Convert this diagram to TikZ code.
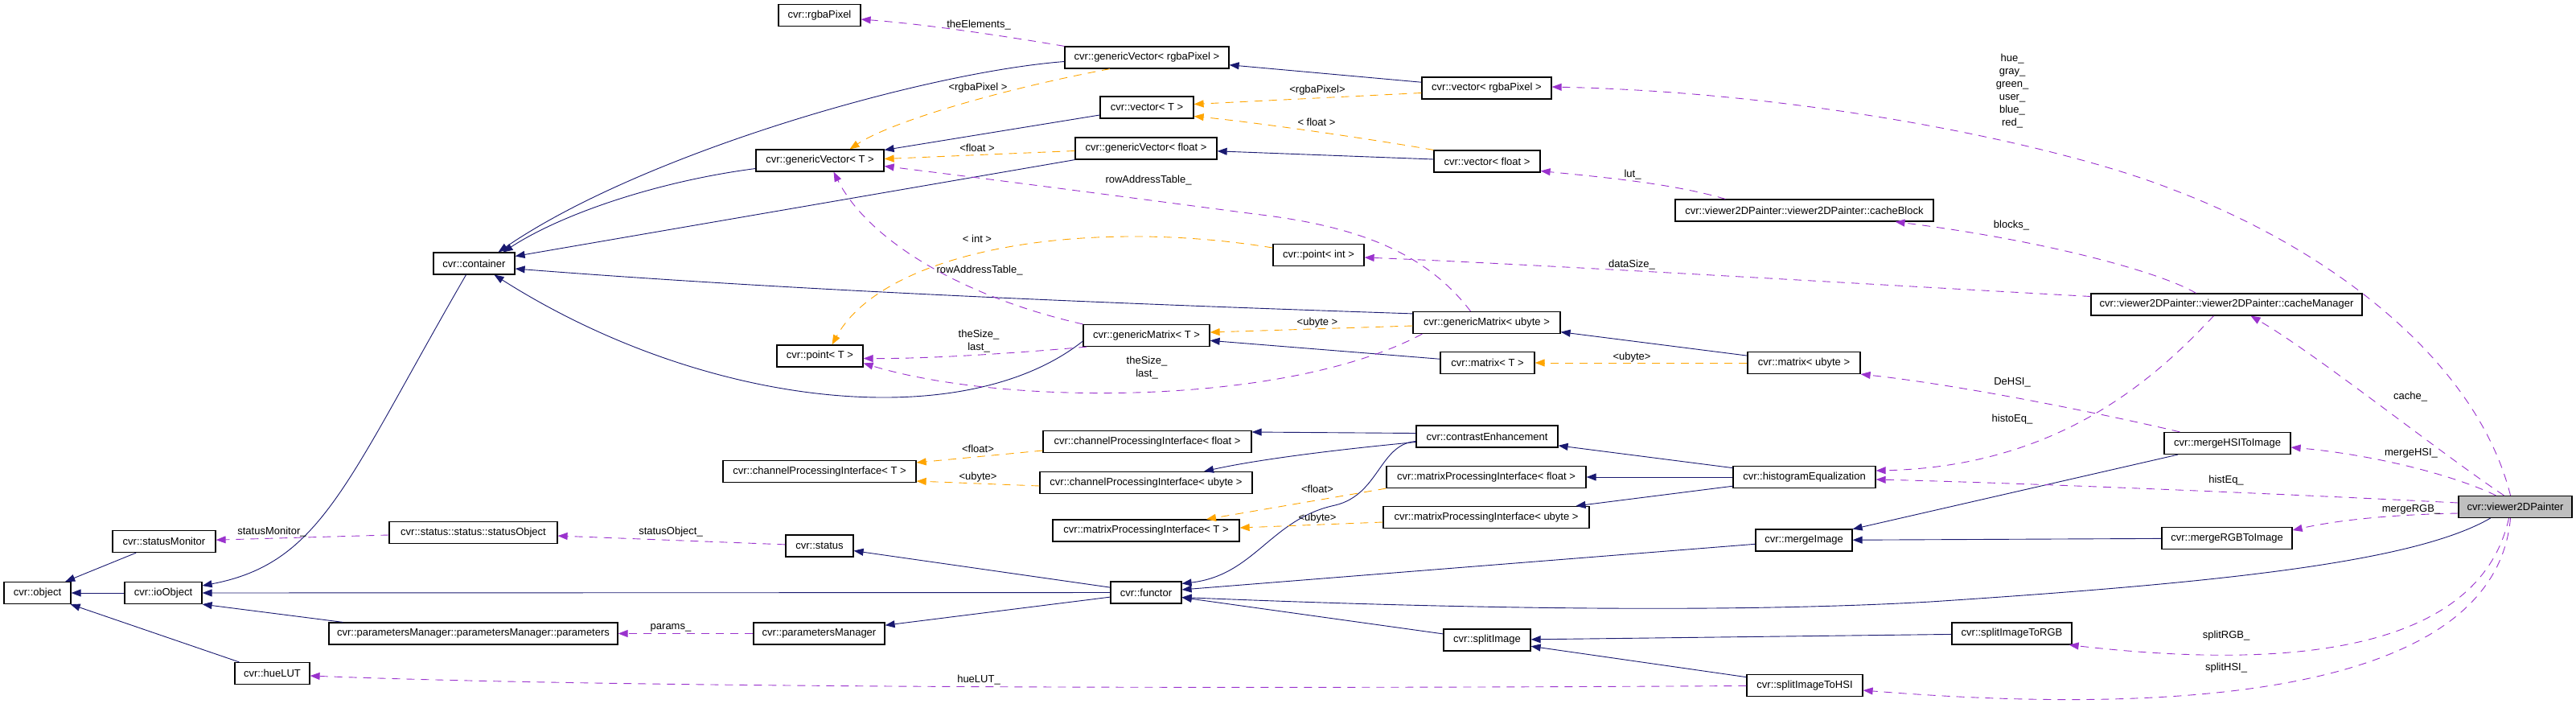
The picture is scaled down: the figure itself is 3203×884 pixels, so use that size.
\documentclass[tikz,border=0pt]{standalone}
\usepackage{fontspec}
\setmainfont{Liberation Sans}
\usetikzlibrary{arrows.meta}
\definecolor{EdgeBlue}{HTML}{191970}
\definecolor{EdgePurple}{HTML}{9A32CD}
\definecolor{EdgeOrange}{HTML}{FFA500}
\definecolor{NodeGray}{HTML}{BFBFBF}
\tikzset{
  classbox/.style={draw=black,line width=1.2pt,fill=white,minimum height=27pt,inner xsep=3pt,inner ysep=0pt,font=\fontsize{13}{16}\selectfont},
  inherit/.style={-{Triangle[length=12pt,width=9pt]},line width=0.9pt,draw=EdgeBlue},
  usage/.style={-{Triangle[length=12pt,width=9pt]},line width=0.9pt,draw=EdgePurple,dash pattern=on 10pt off 8pt},
  tmplinst/.style={-{Triangle[length=12pt,width=9pt]},line width=0.9pt,draw=EdgeOrange,dash pattern=on 10pt off 8pt},
  edgelbl/.style={font=\fontsize{13}{16}\selectfont,inner sep=0pt,align=center}
}

\begin{document}
\begin{tikzpicture}[x=1pt,y=-1pt]
\useasboundingbox (0,0) rectangle (3203,884);
\node[classbox,minimum width=83pt] (object) at (46.5,737) {cvr::object};
\node[classbox,minimum width=96pt] (ioObject) at (203,737) {cvr::ioObject};
\node[classbox,minimum width=128pt] (statusMonitor) at (204,673) {cvr::statusMonitor};
\node[classbox,minimum width=93pt] (hueLUT) at (338.5,837) {cvr::hueLUT};
\node[classbox,minimum width=209pt] (statusObject) at (588.5,662) {cvr::status::status::statusObject};
\node[classbox,minimum width=359pt] (parameters) at (588.5,787.5) {cvr::parametersManager::parametersManager::parameters};
\node[classbox,minimum width=101pt] (container) at (589.5,327.5) {cvr::container};
\node[classbox,minimum width=102pt] (rgbaPixel) at (1019,19) {cvr::rgbaPixel};
\node[classbox,minimum width=159pt] (genericVectorT) at (1019.5,199.5) {cvr::genericVector< T >};
\node[classbox,minimum width=107pt] (pointT) at (1019.5,442.5) {cvr::point< T >};
\node[classbox,minimum width=240pt] (channelT) at (1019,586) {cvr::channelProcessingInterface< T >};
\node[classbox,minimum width=84pt] (status) at (1019,678.5) {cvr::status};
\node[classbox,minimum width=163pt] (parametersManager) at (1018.5,787.5) {cvr::parametersManager};
\node[classbox,minimum width=204pt] (genericVectorRgba) at (1426,71.5) {cvr::genericVector< rgbaPixel >};
\node[classbox,minimum width=116pt] (vectorT) at (1426,133.5) {cvr::vector< T >};
\node[classbox,minimum width=176pt] (genericVectorFloat) at (1425,184.5) {cvr::genericVector< float >};
\node[classbox,minimum width=113pt] (pointInt) at (1639.5,317) {cvr::point< int >};
\node[classbox,minimum width=157pt] (genericMatrixT) at (1425.5,417) {cvr::genericMatrix< T >};
\node[classbox,minimum width=259pt] (channelFloat) at (1426.5,549) {cvr::channelProcessingInterface< float >};
\node[classbox,minimum width=264pt] (channelUbyte) at (1425,600) {cvr::channelProcessingInterface< ubyte >};
\node[classbox,minimum width=232pt] (matrixProcT) at (1425,659.5) {cvr::matrixProcessingInterface< T >};
\node[classbox,minimum width=88pt] (functor) at (1425,736.5) {cvr::functor};
\node[classbox,minimum width=161pt] (vectorRgba) at (1848.5,109.5) {cvr::vector< rgbaPixel >};
\node[classbox,minimum width=132pt] (vectorFloat) at (1849,200.5) {cvr::vector< float >};
\node[classbox,minimum width=183pt] (genericMatrixUbyte) at (1848.5,401) {cvr::genericMatrix< ubyte >};
\node[classbox,minimum width=117pt] (matrixT) at (1849.5,451) {cvr::matrix< T >};
\node[classbox,minimum width=176pt] (contrastEnh) at (1849,542.5) {cvr::contrastEnhancement};
\node[classbox,minimum width=248pt] (matrixProcFloat) at (1848,593) {cvr::matrixProcessingInterface< float >};
\node[classbox,minimum width=256pt] (matrixProcUbyte) at (1848,643) {cvr::matrixProcessingInterface< ubyte >};
\node[classbox,minimum width=108pt] (splitImage) at (1849,795.5) {cvr::splitImage};
\node[classbox,minimum width=321pt] (cacheBlock) at (2243.5,261.5) {cvr::viewer2DPainter::viewer2DPainter::cacheBlock};
\node[classbox,minimum width=140pt] (matrixUbyte) at (2243,451) {cvr::matrix< ubyte >};
\node[classbox,minimum width=177pt] (histEq) at (2243.5,593) {cvr::histogramEqualization};
\node[classbox,minimum width=120pt] (mergeImage) at (2243,671.5) {cvr::mergeImage};
\node[classbox,minimum width=144pt] (splitHSI) at (2244,852) {cvr::splitImageToHSI};
\node[classbox,minimum width=149pt] (splitRGB) at (2501.5,787.5) {cvr::splitImageToRGB};
\node[classbox,minimum width=337pt] (cacheManager) at (2768.5,378.5) {cvr::viewer2DPainter::viewer2DPainter::cacheManager};
\node[classbox,minimum width=157pt] (mergeHSI) at (2769.5,551) {cvr::mergeHSIToImage};
\node[classbox,minimum width=162pt] (mergeRGB) at (2769,669) {cvr::mergeRGBToImage};
\node[classbox,fill=NodeGray,minimum width=141pt] (painter) at (3127.5,630) {cvr::viewer2DPainter};

\draw[inherit] (ioObject) -- (object);
\draw[inherit] (statusMonitor) -- (object);
\draw[inherit] (hueLUT) -- (object);
\draw[inherit] ([xshift=-10pt]container.south) .. controls (430,600) and (400,700) .. ([yshift=9pt]ioObject.east);
\draw[inherit] (functor) -- (ioObject);
\draw[inherit] ([xshift=-162pt]parameters.north) -- (ioObject.south east);
\draw[inherit] ([yshift=-5pt]genericVectorRgba.west) .. controls (1150,90) and (800,190) .. ([xshift=30pt]container.north);
\draw[inherit] ([yshift=-10pt]genericVectorT.west) .. controls (820,225) and (700,265) .. ([xshift=36pt]container.north);
\draw[inherit] (genericVectorFloat.south west) -- (container.10);
\draw[inherit] ([yshift=-3pt]genericMatrixUbyte.north west) .. controls (1400,378) and (1000,362) .. ([yshift=-6.5pt]container.east);
\draw[inherit] ([yshift=-7pt]genericMatrixT.west) .. controls (1200,540) and (880,510) .. ([xshift=25pt]container.south);
\draw[inherit] (vectorRgba) -- (genericVectorRgba);
\draw[inherit] (vectorT) -- (genericVectorT);
\draw[inherit] (vectorFloat) -- (genericVectorFloat);
\draw[inherit] (matrixT) -- (genericMatrixT);
\draw[inherit] (matrixUbyte) -- (genericMatrixUbyte);
\draw[inherit] ([yshift=4pt]contrastEnh.west) -- ([yshift=12pt]channelFloat.east);
\draw[inherit] ([yshift=-7pt]contrastEnh.west) .. controls (1650,560) and (1560,572) .. ([xshift=72pt]channelUbyte.north);
\draw[inherit] ([yshift=-6pt]contrastEnh.west) .. controls (1715,552) and (1715,615) .. (1660,628) .. controls (1580,645) and (1560,715) .. ([yshift=-3pt]functor.north east);
\draw[inherit] (histEq) -- (contrastEnh);
\draw[inherit] (histEq) -- (matrixProcFloat);
\draw[inherit] (histEq) -- (matrixProcUbyte);
\draw[inherit] (functor) -- (status);
\draw[inherit] (functor) -- (parametersManager);
\draw[inherit] (mergeImage) -- (functor);
\draw[inherit] ([xshift=-31pt]painter.south) .. controls (3000,700) and (2750,725) .. (2400,748) .. controls (2100,765) and (1700,752) .. ([yshift=-6pt]functor.east);
\draw[inherit] (splitImage) -- (functor);
\draw[inherit] (mergeHSI) -- (mergeImage);
\draw[inherit] (mergeRGB) -- (mergeImage);
\draw[inherit] (splitRGB) -- (splitImage);
\draw[inherit] (splitHSI) -- (splitImage);

\draw[usage] (genericVectorRgba.north west) .. controls (1250,45) and (1150,30) .. ([yshift=-5pt]rgbaPixel.east);
\draw[usage] ([xshift=-20pt]genericMatrixUbyte.north) .. controls (1770,310) and (1680,280) .. (1560,266) .. controls (1400,245) and (1250,225) .. ([yshift=-7pt]genericVectorT.east);
\draw[usage] (genericMatrixT.north west) .. controls (1200,370) and (1080,300) .. ([xshift=17pt]genericVectorT.south);
\draw[usage] ([xshift=5pt]genericMatrixT.south west) .. controls (1250,440) and (1150,446) .. ([yshift=-3pt]pointT.east);
\draw[usage] ([xshift=12pt]genericMatrixUbyte.south west) .. controls (1600,505) and (1250,505) .. ([yshift=-9pt]pointT.east);
\draw[usage] (statusObject) -- (statusMonitor);
\draw[usage] (status) -- (statusObject);
\draw[usage] (parametersManager) -- (parameters);
\draw[usage] (splitHSI) .. controls (1600,856) and (800,856) .. ([yshift=-3pt]hueLUT.east);
\draw[usage] ([xshift=63pt]cacheBlock.north west) .. controls (2080,228) and (1990,220) .. ([yshift=-12pt]vectorFloat.east);
\draw[usage] ([yshift=10pt]cacheManager.west) .. controls (2300,352) and (1900,328) .. ([yshift=-3pt]pointInt.east);
\draw[usage] ([xshift=-38pt]cacheManager.north) .. controls (2690,340) and (2550,300) .. ([xshift=113pt]cacheBlock.south);
\draw[usage] ([xshift=-6pt]painter.north) .. controls (3080,450) and (2900,310) .. (2700,235) .. controls (2560,180) and (2250,115) .. ([yshift=1.5pt]vectorRgba.east);
\draw[usage] ([xshift=-14pt]painter.north) .. controls (3030,560) and (2880,440) .. ([xshift=30pt]cacheManager.south);
\draw[usage] ([xshift=20pt]mergeHSI.north west) .. controls (2640,520) and (2450,480) .. (matrixUbyte.south east);
\draw[usage] ([xshift=-16pt]cacheManager.south) .. controls (2680,470) and (2560,580) .. ([yshift=8pt]histEq.east);
\draw[usage] ([xshift=-24pt]painter.north) .. controls (3050,590) and (2950,565) .. ([yshift=-5pt]mergeHSI.east);
\draw[usage] ([yshift=5pt]painter.west) .. controls (2800,612) and (2500,600) .. ([yshift=-3pt]histEq.east);
\draw[usage] ([yshift=-8pt]painter.west) .. controls (2960,640) and (2900,648) .. ([yshift=10pt]mergeRGB.east);
\draw[usage] ([xshift=-8pt]painter.south) .. controls (3080,820) and (2820,830) .. ([xshift=-4pt]splitRGB.south east);
\draw[usage] ([xshift=-6pt]painter.south) .. controls (3100,880) and (2650,885) .. ([yshift=-6pt]splitHSI.east);

\draw[tmplinst] ([xshift=-46pt]genericVectorRgba.south) .. controls (1250,110) and (1110,150) .. ([xshift=37pt]genericVectorT.north);
\draw[tmplinst] ([yshift=-3pt]genericVectorFloat.west) -- ([yshift=2pt]genericVectorT.east);
\draw[tmplinst] ([yshift=-6pt]vectorRgba.west) -- ([yshift=4pt]vectorT.east);
\draw[tmplinst] (vectorFloat.north west) .. controls (1700,172) and (1560,152) .. ([yshift=-11pt]vectorT.east);
\draw[tmplinst] ([yshift=9pt]pointInt.west) .. controls (1350,270) and (1100,310) .. ([xshift=15pt]pointT.north);
\draw[tmplinst] ([yshift=-4pt]genericMatrixUbyte.west) -- ([yshift=4pt]genericMatrixT.east);
\draw[tmplinst] (matrixUbyte) -- (matrixT);
\draw[tmplinst] ([yshift=-11pt]channelFloat.west) -- ([yshift=11pt]channelT.east);
\draw[tmplinst] ([yshift=-4pt]channelUbyte.west) -- ([yshift=-12pt]channelT.east);
\draw[tmplinst] (matrixProcFloat.south west) -- ([xshift=75pt]matrixProcT.north);
\draw[tmplinst] ([yshift=-6pt]matrixProcUbyte.west) -- ([yshift=3.5pt]matrixProcT.east);

\node[edgelbl] (lElements) at (1217,31) {theElements\_};
\node[edgelbl] (lGvRgba) at (1216,109) {<rgbaPixel >};
\node[edgelbl] (lVRgba) at (1638,112) {<rgbaPixel>};
\node[edgelbl] (lVFloat) at (1637,152) {< float >};
\node[edgelbl] (lGvFloat) at (1215,184) {<float >};
\node[edgelbl] (lRowUbyte) at (1428,224) {rowAddressTable\_};
\node[edgelbl] (lInt) at (1215,297) {< int >};
\node[edgelbl] (lRowT) at (1218,336) {rowAddressTable\_};
\node[edgelbl] (lSizeT) at (1217,424) {theSize\_\\last\_};
\node[edgelbl] (lSizeUbyte) at (1426,457) {theSize\_\\last\_};
\node[edgelbl] (lGmUbyte) at (1638,401) {<ubyte >};
\node[edgelbl] (lMUbyte) at (2029,444) {<ubyte>};
\node[edgelbl] (lLut) at (2030,217) {lut\_};
\node[edgelbl] (lDataSize) at (2029,329) {dataSize\_};
\node[edgelbl] (lChFloat) at (1216,558) {<float>};
\node[edgelbl] (lChUbyte) at (1216,593) {<ubyte>};
\node[edgelbl] (lMpFloat) at (1638,608) {<float>};
\node[edgelbl] (lMpUbyte) at (1638,644) {<ubyte>};
\node[edgelbl] (lStatusMon) at (338,661) {statusMonitor\_};
\node[edgelbl] (lStatusObj) at (834,661) {statusObject\_};
\node[edgelbl] (lParams) at (834,780) {params\_};
\node[edgelbl] (lHueLUT) at (1217,845) {hueLUT\_};
\node[edgelbl] (lChannels) at (2502,113) {hue\_\\gray\_\\green\_\\user\_\\blue\_\\red\_};
\node[edgelbl] (lBlocks) at (2501,280) {blocks\_};
\node[edgelbl] (lDeHSI) at (2502,475) {DeHSI\_};
\node[edgelbl] (lHistoEq) at (2502,521) {histoEq\_};
\node[edgelbl] (lCache) at (2997,493) {cache\_};
\node[edgelbl] (lMergeHSI) at (2998,563) {mergeHSI\_};
\node[edgelbl] (lHistEq) at (2768,597) {histEq\_};
\node[edgelbl] (lMergeRGB) at (2998,633) {mergeRGB\_};
\node[edgelbl] (lSplitRGB) at (2768,790) {splitRGB\_};
\node[edgelbl] (lSplitHSI) at (2768,830) {splitHSI\_};
\end{tikzpicture}
\end{document}
